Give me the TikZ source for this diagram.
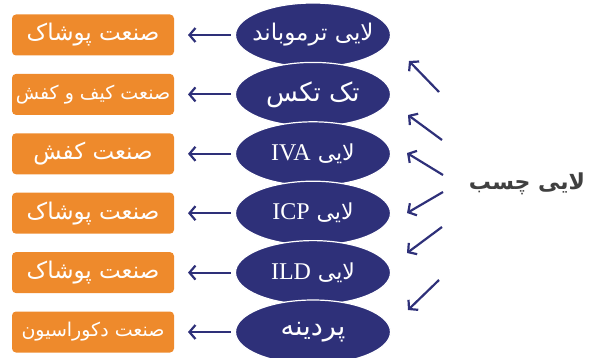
\documentclass[tikz,border=0pt]{standalone}
\usepackage{fontspec}
\usepackage{tikz}
\usetikzlibrary{shapes.geometric,arrows.meta}
\TeXXeTstate=1
\newfontfamily\arabicfont[Script=Arabic]{DejaVu Sans}
\newfontfamily\latinfont{Liberation Serif}
\definecolor{navy}{HTML}{2E3079}
\definecolor{orng}{HTML}{EE8A2C}
\definecolor{txtgray}{HTML}{404040}
\tikzset{
  font={\fontsize{23pt}{24pt}\selectfont}}
\newcommand{\fs}[1]{\fontsize{#1}{#1}\selectfont}

\begin{document}
\begin{tikzpicture}[x=1pt, y=1pt, node distance={59.4pt}, line width=2pt,
  main/.style = {draw=white, line width=1.2pt, fill=navy, ellipse, minimum width=155pt, minimum height=64pt, inner sep=0pt, text=white},
  field/.style = {fill=orng, rounded corners=4pt, minimum width=162pt, minimum height=41pt, inner sep=0pt, text=white},
  arr/.style = {navy, line width=2.2pt, -{Straight Barb[length=6pt,width=14pt]}}]
\useasboundingbox (0,0) rectangle (611,357);
\node[main, inner xsep=-20pt] (1) at (313,322) {\fs{23pt}\arabicfont\beginR لایی ترموباند\endR};
\node[main] (2) [below of=1] {\fs{26pt}\arabicfont\beginR تک تکس\endR};
\node[main] (3) [below of=2] {\fs{22pt}\arabicfont\beginR لایی \beginL{\latinfont\fs{24pt}IVA}\endL\endR};
\node[main] (4) [below of=3] {\fs{22pt}\arabicfont\beginR لایی \beginL{\latinfont\fs{24pt}ICP}\endL\endR};
\node[main] (5) [below of=4] {\fs{22pt}\arabicfont\beginR لایی \beginL{\latinfont\fs{24pt}ILD}\endL\endR};
\node[main] (6) [below of=5] {\fs{27pt}\arabicfont\beginR پردینه\endR};

\node[field] (b1) [node distance=220pt, left of=1] {\arabicfont\beginR صنعت پوشاک\endR};
\node[field] (b2) [node distance=220pt, left of=2] {\fs{19pt}\arabicfont\beginR صنعت کیف و کفش\endR};
\node[field] (b3) [node distance=220pt, left of=3] {\arabicfont\beginR صنعت کفش\endR};
\node[field] (b4) [node distance=220pt, left of=4] {\arabicfont\beginR صنعت پوشاک\endR};
\node[field] (b5) [node distance=220pt, left of=5] {\arabicfont\beginR صنعت پوشاک\endR};
\node[field] (b6) [node distance=220pt, left of=6] {\fs{19pt}\arabicfont\beginR صنعت دکوراسیون\endR};

\draw[arr, shorten <=4pt, shorten >=13pt] (1) -- (b1);
\draw[arr, shorten <=4pt, shorten >=13pt] (2) -- (b2);
\draw[arr, shorten <=4pt, shorten >=13pt] (3) -- (b3);
\draw[arr, shorten <=4pt, shorten >=13pt] (4) -- (b4);
\draw[arr, shorten <=4pt, shorten >=13pt] (5) -- (b5);
\draw[arr, shorten <=4pt, shorten >=13pt] (6) -- (b6);

% glue text and its arrows
\node[text=txtgray] (glue) at (527,173) {\fs{22pt}\arabicfont\bfseries\beginR لایی چسب\endR};
\coordinate (t1) at (439,265); \coordinate (h1) at (409,296);
\coordinate (t2) at (442,217); \coordinate (h2) at (408,242);
\coordinate (t3) at (443,182); \coordinate (h3) at (407,204);
\coordinate (t4) at (443,165); \coordinate (h4) at (407,144);
\coordinate (t5) at (442,130); \coordinate (h5) at (407,104);
\coordinate (t6) at (439,77);  \coordinate (h6) at (408,47);
\draw[arr] (t1) -- (h1);
\draw[arr] (t2) -- (h2);
\draw[arr] (t3) -- (h3);
\draw[arr] (t4) -- (h4);
\draw[arr] (t5) -- (h5);
\draw[arr] (t6) -- (h6);
\end{tikzpicture}
\end{document}
